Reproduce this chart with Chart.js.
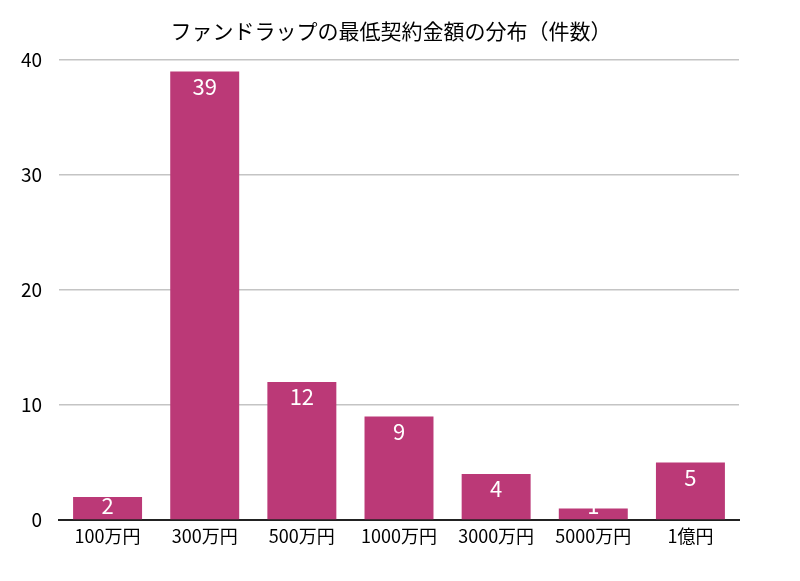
<!DOCTYPE html>
<html>
<head>
<meta charset="utf-8">
<script src="https://cdn.jsdelivr.net/npm/chart.js@4"></script>
<style>
  body { margin: 0; background: #fff; }
</style>
</head>
<body>
<canvas id="myChart" width="800" height="581"></canvas>
<script>
let titleText = 'ファンドラップの最低契約金額の分布（件数）';
let labels = ['100万円', '300万円', '500万円', '1000万円', '3000万円', '5000万円', '1億円'];
let counts = [2, 39, 12, 9, 4, 1, 5];
let yTicks = [0, 10, 20, 30, 40];

let fontFamily = '"Noto Sans CJK JP", "Noto Sans", sans-serif';
let barColor = '#bb3977';

// white value labels near the top of each bar
let valueLabels = {
    id: 'valueLabels',
    afterDatasetsDraw(chart) {
        let c = chart.ctx;
        let bottom = chart.chartArea.bottom;
        c.save();
        c.fillStyle = '#ffffff';
        c.font = '22px ' + fontFamily;
        c.textAlign = 'center';
        c.textBaseline = 'middle';
        chart.getDatasetMeta(0).data.forEach((bar, i) => {
            let y = Math.min(bar.y + 15, bottom - 14);
            c.fillText(String(counts[i]), bar.x, y);
        });
        c.restore();
    }
};

let chartTitle = {
    id: 'chartTitle',
    afterDraw(chart) {
        let c = chart.ctx;
        c.save();
        c.fillStyle = '#000';
        c.font = '21px ' + fontFamily;
        c.textAlign = 'center';
        c.textBaseline = 'middle';
        c.fillText(titleText, 391, 31);
        c.restore();
    }
};

let myChart = new Chart(document.getElementById('myChart').getContext('2d'), {
    type: 'bar',
    data: {
        labels: labels,
        datasets: [{
            data: counts,
            backgroundColor: barColor,
            borderWidth: 0,
            barPercentage: 0.71,
            categoryPercentage: 1
        }]
    },
    options: {
        responsive: false,
        animation: false,
        layout: { padding: { top: 60, right: 61, left: 0, bottom: 0 } },
        plugins: {
            legend: { display: false },
            title: { display: false },
            tooltip: { enabled: false }
        },
        scales: {
            x: {
                afterFit: s => { s.height = 61; },
                grid: { display: false, drawTicks: false },
                border: { display: true, color: '#222', width: 2 },
                ticks: { color: '#000', padding: 5, font: { family: fontFamily, size: 18 } }
            },
            y: {
                min: 0,
                max: 40,
                afterFit: s => { s.width = 59; },
                afterBuildTicks: s => { s.ticks = yTicks.map(v => ({ value: v })); },
                grid: { color: '#c4c4c4', lineWidth: 1.5, drawTicks: false },
                border: { display: false },
                ticks: { color: '#000', padding: 17, font: { family: fontFamily, size: 19 } }
            }
        }
    },
    plugins: [valueLabels, chartTitle]
});
</script>
</body>
</html>
